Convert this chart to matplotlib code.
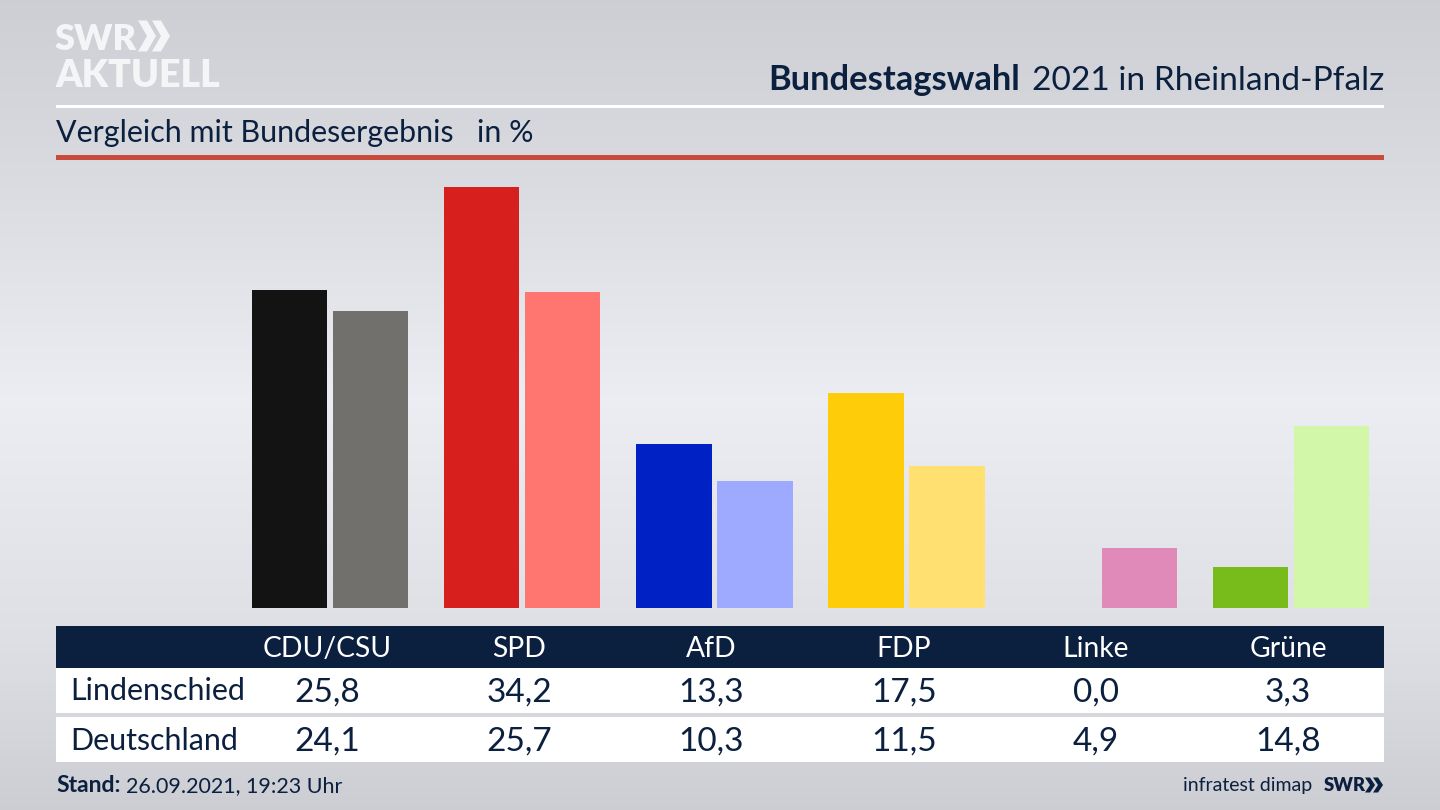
import numpy as np
import matplotlib
matplotlib.use("Agg")
import matplotlib.pyplot as plt
from matplotlib.patches import Rectangle, Polygon

plt.rcParams['font.family'] = ['Lato', 'DejaVu Sans']

parties = ["CDU/CSU", "SPD", "AfD", "FDP", "Linke", "Grüne"]
lindenschied = [25.8, 34.2, 13.3, 17.5, 0.0, 3.3]
deutschland = [24.1, 25.7, 10.3, 11.5, 4.9, 14.8]
colors_local = ["#131313", "#d71f1d", "#0021c4", "#ffcc0a", "#b5357f", "#78bc1b"]
colors_federal = ["#72706c", "#ff7570", "#9eaaff", "#ffe070", "#df8ab8", "#d2f7a8"]
row_names = ["Lindenschied", "Deutschland"]

NAVY = "#0b1f3f"
LOGO = "#f4f5f7"
W, H = 1440, 810

fig = plt.figure(figsize=(14.4, 8.1), dpi=100)

# background + furniture in pixel coordinates
bg = fig.add_axes([0, 0, 1, 1])
bg.set_xlim(0, W)
bg.set_ylim(H, 0)
bg.axis("off")
stops_y = [0, 150, 400, 640, 810]
stops_v = [0.805, 0.845, 0.925, 0.87, 0.80]
yy = np.arange(H)
shade = np.interp(yy, stops_y, stops_v)
img = np.stack([shade, shade + 0.006, shade + 0.025], axis=1)[:, None, :]
bg.imshow(np.clip(img, 0, 1), extent=[0, W, H, 0], aspect="auto", zorder=0)

bg.add_patch(Rectangle((56, 104.5), 1328, 3, color="white", lw=0, zorder=1))
bg.add_patch(Rectangle((56, 155), 1328, 5, color="#c84b3c", lw=0, zorder=1))
bg.add_patch(Rectangle((56, 626), 1328, 42, color=NAVY, lw=0, zorder=1))
bg.add_patch(Rectangle((56, 668), 1328, 45, color="white", lw=0, zorder=1))
bg.add_patch(Rectangle((56, 717), 1328, 45, color="white", lw=0, zorder=1))

# logo
bg.text(55, 50, "SWR", color=LOGO, fontsize=26, fontweight="heavy", va="baseline", ha="left", zorder=2)
bg.text(55, 87, "AKTUELL", color=LOGO, fontsize=27, fontweight="heavy", va="baseline", ha="left", zorder=2)


def chevrons(x, y, h, w, step, color):
    for k in range(2):
        x0 = x + k * step
        bg.add_patch(Polygon([(x0, y - h / 2), (x0 + w * 0.5, y - h / 2), (x0 + w, y),
                              (x0 + w * 0.5, y + h / 2), (x0, y + h / 2), (x0 + w * 0.5, y)],
                             closed=True, color=color, lw=0, zorder=2))


chevrons(138, 36, 31, 18, 14, LOGO)

# headline, two weights
bg.text(1384, 90, "2021 in Rheinland-Pfalz", color=NAVY, fontsize=24.1, va="baseline", ha="right", zorder=2)
bg.text(1020, 90, "Bundestagswahl", color=NAVY, fontsize=24.8, fontweight="bold", va="baseline", ha="right", zorder=2)

bg.text(56.5, 142, "Vergleich mit Bundesergebnis", color=NAVY, fontsize=21.9, va="baseline", ha="left", zorder=2)
bg.text(477, 142, "in %", color=NAVY, fontsize=21.9, va="baseline", ha="left", zorder=2)

# bars
ax = fig.add_axes([56 / W, 1 - 608 / H, 1328 / W, 448 / H])
ax.patch.set_alpha(0)
ax.set_xlim(-1.4256, 5.484)
ax.set_ylim(0, 36.39)
ax.axis("off")
x = np.arange(len(parties))
ax.bar(x - 0.2107, lindenschied, width=0.393, color=colors_local)
ax.bar(x + 0.2107, deutschland, width=0.393, color=colors_federal)

# table
col_x = [327, 519.5, 711.5, 904, 1096, 1288]
for cx, p, a, b in zip(col_x, parties, lindenschied, deutschland):
    bg.text(cx, 657, p, color="white", fontsize=20.3, ha="center", va="baseline", zorder=2)
    bg.text(cx, 702, f"{a:.1f}".replace(".", ","), color=NAVY, fontsize=24, ha="center", va="baseline", zorder=2)
    bg.text(cx, 751, f"{b:.1f}".replace(".", ","), color=NAVY, fontsize=24, ha="center", va="baseline", zorder=2)
bg.text(70, 700, row_names[0], color=NAVY, fontsize=21.9, ha="left", va="baseline", zorder=2)
bg.text(70, 750, row_names[1], color=NAVY, fontsize=21.9, ha="left", va="baseline", zorder=2)

# footer
bg.text(56, 792, "Stand:", color=NAVY, fontsize=16.5, fontweight="bold", ha="left", va="baseline", zorder=2)
bg.text(126, 792, "26.09.2021, 19:23 Uhr", color=NAVY, fontsize=15.5, ha="left", va="baseline", zorder=2)
bg.text(1312, 791, "infratest dimap", color=NAVY, fontsize=14, ha="right", va="baseline", zorder=2)
bg.text(1324, 791, "SWR", color=NAVY, fontsize=13.3, fontweight="heavy", ha="left", va="baseline", zorder=2)
chevrons(1365, 785, 15, 10, 8, NAVY)

fig.savefig("out.png", dpi=100)
